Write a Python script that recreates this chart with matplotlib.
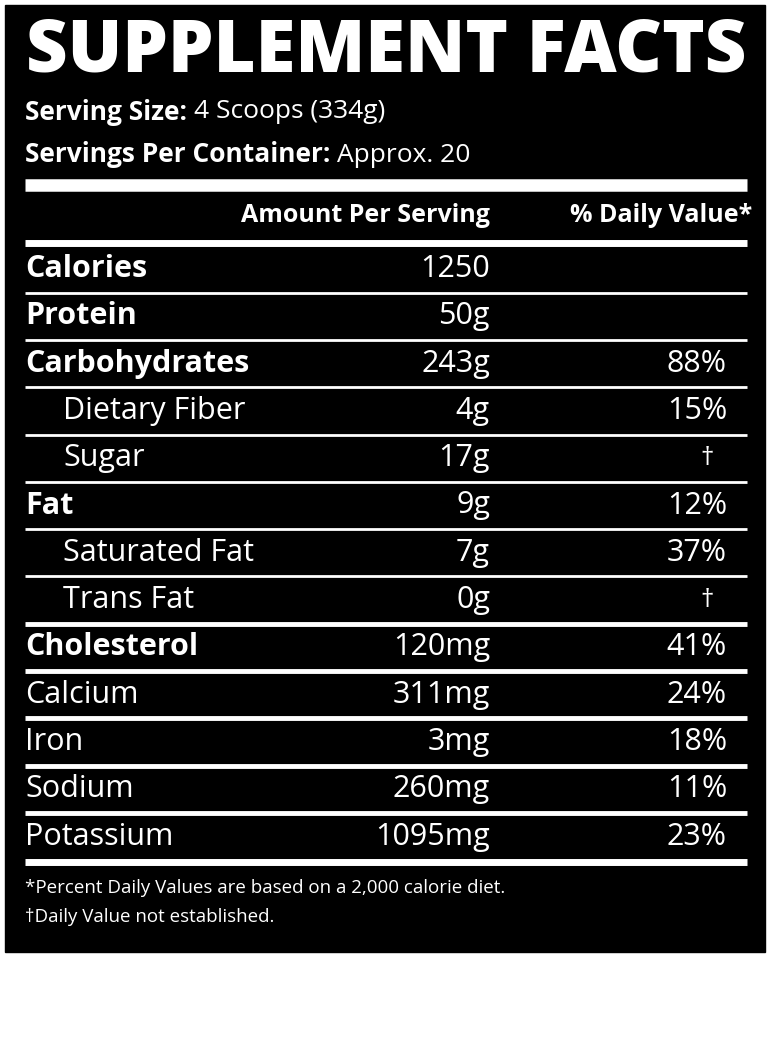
import matplotlib
matplotlib.use("Agg")
import matplotlib.pyplot as plt

# label content
title = "SUPPLEMENT FACTS"
serving_size = "4 Scoops (334g)"
servings_per = "Approx. 20"
nutrients = ["Calories", "Protein", "Carbohydrates", "Dietary Fiber", "Sugar", "Fat",
             "Saturated Fat", "Trans Fat", "Cholesterol", "Calcium", "Iron", "Sodium", "Potassium"]
amounts = ["1250", "50g", "243g", "4g", "17g", "9g", "7g", "0g", "120mg", "311mg", "3mg", "260mg", "1095mg"]
daily = ["", "", "88%", "15%", "†", "12%", "37%", "†", "41%", "24%", "18%", "11%", "23%"]
bold = [True, True, True, False, False, True, False, False, True, False, False, False, False]
indent = [0, 0, 0, 1, 1, 0, 1, 1, 0, 0, 0, 0, 0]
footnotes = ["*Percent Daily Values are based on a 2,000 calorie diet.",
             "†Daily Value not established."]

fam = ["Open Sans", "DejaVu Sans"]
fig = plt.figure(figsize=(7.7, 10.5), dpi=100)
ax = fig.add_axes([0, 0, 1, 1])
ax.set_xlim(0, 770)
ax.set_ylim(1050, 0)
ax.axis("off")
ax.add_patch(plt.Rectangle((5, 5), 760, 947, color="black"))

ax.text(386, 52, title, color="white", fontsize=52, fontweight="heavy", family=fam,
        ha="center", va="center")
for y, lab, val in [(112, "Serving Size:", serving_size), (155, "Servings Per Container:", servings_per)]:
    t = ax.text(25, y, lab + " ", color="white", fontsize=19, fontweight="bold", family=fam, va="center")
    fig.canvas.draw()
    bb = t.get_window_extent().transformed(ax.transData.inverted())
    ax.text(bb.x1, y, val, color="white", fontsize=19, family=fam, va="center")

ax.plot([25, 747], [185, 185], color="white", lw=9, solid_capstyle="butt")
ax.text(490, 216, "Amount Per Serving", color="white", fontsize=18, fontweight="bold",
        family=fam, ha="right", va="center")
ax.text(752, 216, "% Daily Value*", color="white", fontsize=18, fontweight="bold",
        family=fam, ha="right", va="center")
ax.plot([25, 747], [243, 243], color="white", lw=5, solid_capstyle="butt")

y0, dy = 269, 47.3
for i, name in enumerate(nutrients):
    y = y0 + i * dy
    x = 25 + (38 if indent[i] else 0)
    ax.text(x, y, name, color="white", fontsize=22, fontweight="bold" if bold[i] else "normal",
            family=fam, va="center")
    ax.text(490, y, amounts[i], color="white", fontsize=22, family=fam, ha="right", va="center")
    if daily[i] == "†":
        ax.text(707, y, daily[i], color="white", fontsize=19, family=fam, ha="center", va="center")
    else:
        ax.text(727, y, daily[i], color="white", fontsize=22, family=fam, ha="right", va="center")
    if i < len(nutrients) - 1:
        yl = y + dy / 2
        lw = 3.5 if i >= 7 else 2
        ax.plot([25, 747], [yl, yl], color="white", lw=lw, solid_capstyle="butt")

ax.plot([25, 747], [862, 862], color="white", lw=5, solid_capstyle="butt")
ax.text(25, 888, footnotes[0], color="white", fontsize=13.5, family=fam, va="center")
ax.text(25, 917, footnotes[1], color="white", fontsize=13.5, family=fam, va="center")

fig.savefig("out.png", dpi=100, facecolor="white")
